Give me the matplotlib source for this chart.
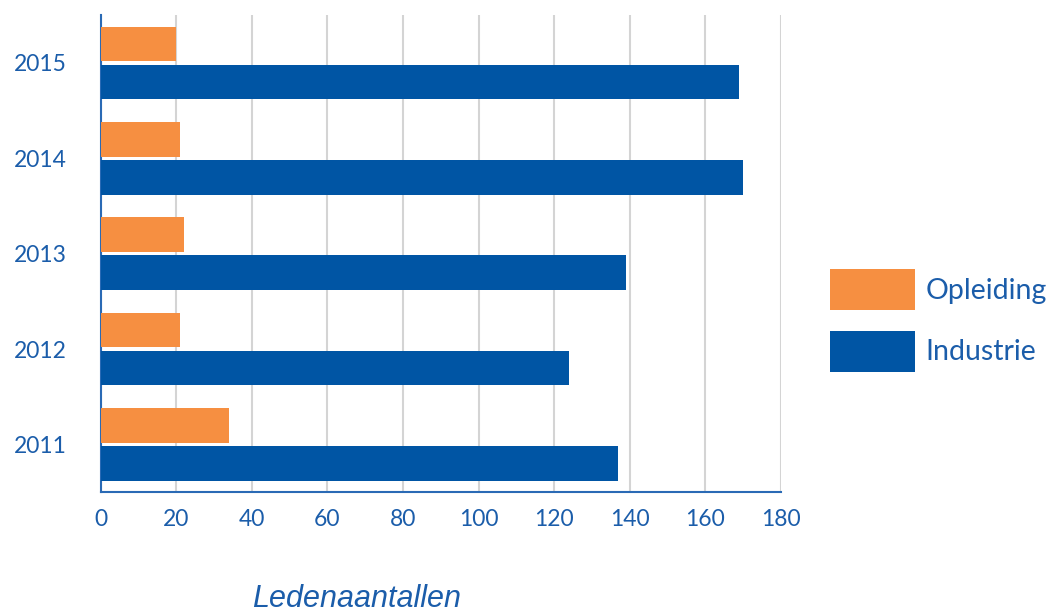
import numpy as np
import matplotlib.pyplot as plt

# Ledenaantallen per jaar
years     = ["2011", "2012", "2013", "2014", "2015"]
opleiding = [34, 21, 22, 21, 20]
industrie = [137, 124, 139, 170, 169]

c_orange = "#F68F41"
c_blue   = "#0055A4"
c_text   = "#1B5DAA"

plt.rcParams["font.family"] = ["Lato", "DejaVu Sans"]

fig = plt.figure(figsize=(10.55, 6.12), dpi=100)
ax = fig.add_axes([0.0953, 0.196, 0.645, 0.779])

y = np.arange(len(years))
h = 0.365
ax.barh(y + 0.2, opleiding, height=h, color=c_orange, label="Opleiding", zorder=3)
ax.barh(y - 0.2, industrie, height=h, color=c_blue, label="Industrie", zorder=3)

ax.set_xlim(0, 180)
ax.set_ylim(-0.5, 4.5)
ax.set_xticks(np.arange(0, 181, 20))
ax.set_yticks(y)
ax.set_yticklabels(years)
ax.grid(axis="x", color="#d4d4d4", lw=1.5, zorder=0)
ax.set_axisbelow(True)

for s in ["top", "right"]:
    ax.spines[s].set_visible(False)
for s in ["left", "bottom"]:
    ax.spines[s].set_color("#2a6ab5")
    ax.spines[s].set_linewidth(1.5)

ax.tick_params(axis="y", length=0, pad=24, labelsize=16.5, labelcolor=c_text)
ax.tick_params(axis="x", length=0, pad=12, labelsize=16.5, labelcolor=c_text)

fig.text(0.338, 0.008, "Ledenaantallen", fontsize=22, style="italic",
         family=["Liberation Sans", "DejaVu Sans"], color=c_text, ha="center")

ax.legend(loc="center left", bbox_to_anchor=(1.055, 0.36), frameon=False,
          fontsize=20.5, labelcolor=c_text, handlelength=3.0, handleheight=1.85,
          labelspacing=0.72, handletextpad=0.35, borderaxespad=0)

fig.savefig("out.png", dpi=100)
